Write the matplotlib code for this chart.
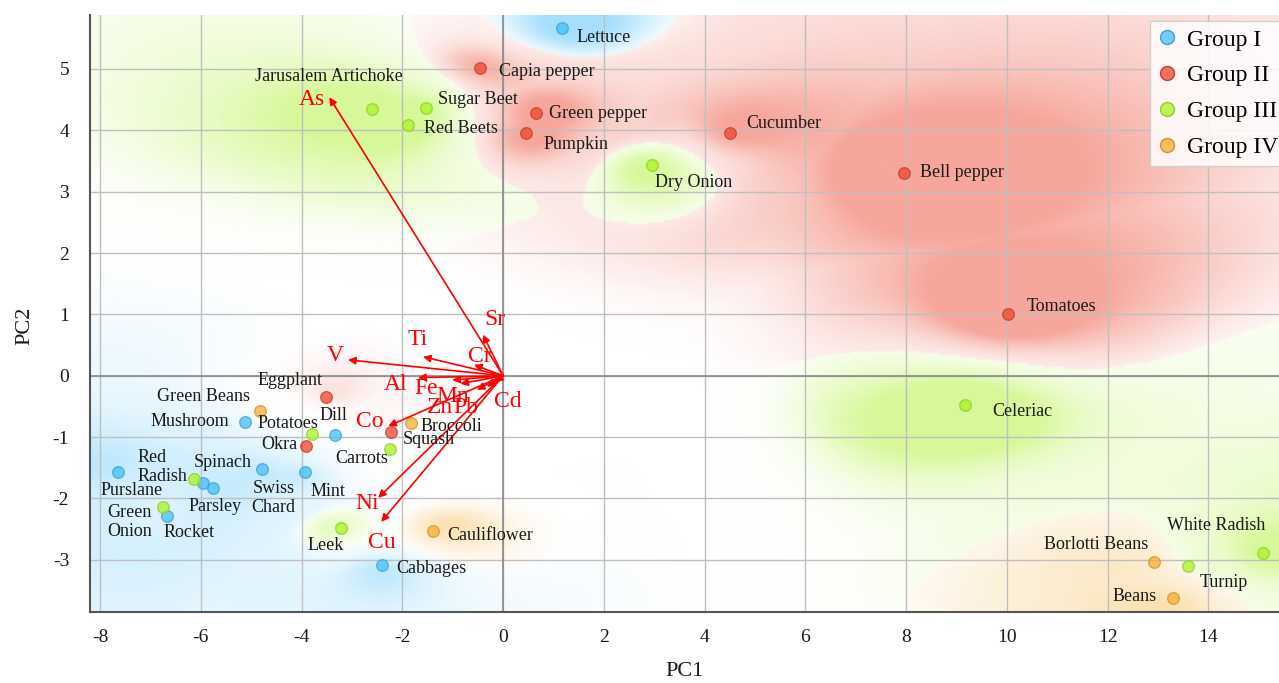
import numpy as np
import matplotlib.pyplot as plt
from matplotlib.lines import Line2D

plt.rcParams['font.family'] = ['Liberation Serif', 'DejaVu Serif']

# PCA scores of the vegetables (PC1, PC2) and their group
names = ["Lettuce", "Mushroom", "Dill", "Purslane", "Spinach", "Parsley",
         "Swiss\nChard", "Mint", "Rocket", "Cabbages",
         "Capia pepper", "Green pepper", "Pumpkin", "Cucumber", "Bell pepper",
         "Tomatoes", "Eggplant", "Okra", "Squash",
         "Jarusalem Artichoke", "Sugar Beet", "Red Beets", "Dry Onion", "Celeriac",
         "Potatoes", "Carrots", "Red\nRadish", "Green\nOnion", "Leek",
         "White Radish", "Turnip",
         "Green Beans", "Broccoli", "Cauliflower", "Borlotti Beans", "Beans"]
pc1 = [1.17, -5.12, -3.33, -7.64, -5.95, -5.75, -4.78, -3.93, -6.67, -2.40,
       -0.46, 0.65, 0.46, 4.50, 7.96, 10.02, -3.51, -3.91, -2.22,
       -2.60, -1.53, -1.88, 2.96, 9.17, -3.79, -2.24, -6.13, -6.75, -3.21,
       15.08, 13.59,
       -4.82, -1.83, -1.39, 12.92, 13.29]
pc2 = [5.66, -0.75, -0.96, -1.57, -1.75, -1.83, -1.52, -1.57, -2.28, -3.08,
       5.01, 4.29, 3.95, 3.96, 3.30, 1.00, -0.34, -1.14, -0.91,
       4.34, 4.36, 4.08, 3.43, -0.47, -0.95, -1.19, -1.68, -2.14, -2.48,
       -2.89, -3.10,
       -0.57, -0.77, -2.53, -3.03, -3.62]
group = [0] * 10 + [1] * 9 + [2] * 12 + [3] * 5
group_names = ["Group I", "Group II", "Group III", "Group IV"]

# loadings of the elements
elements = ["As", "Sr", "Ti", "V", "Cr", "Al", "Fe", "Mn", "Zn", "Pb", "Cd",
            "Co", "Ni", "Cu"]
load1 = [-3.45, -0.40, -1.59, -3.08, -0.58, -1.69, -1.01, -0.85, -0.52, -0.32,
         -0.16, -2.28, -2.48, -2.42]
load2 = [4.54, 0.67, 0.31, 0.26, 0.18, -0.03, -0.07, -0.13, -0.23, -0.18,
         -0.11, -0.82, -1.99, -2.38]

# label placement (offset in pixels from the point, horizontal alignment)
label_pos = {
    "Lettuce": (14, -9, 'left'), "Mushroom": (-16, 0, 'right'),
    "Dill": (-2, 19, 'center'), "Purslane": (13, -18, 'center'),
    "Spinach": (19, 21, 'center'), "Parsley": (2, -18, 'center'),
    "Swiss\nChard": (11, -29, 'center'), "Mint": (23, -19, 'center'),
    "Rocket": (22, -17, 'center'), "Cabbages": (14, -4, 'left'),
    "Capia pepper": (19, -3, 'left'), "Green pepper": (13, -1, 'left'),
    "Pumpkin": (17, -11, 'left'), "Cucumber": (16, 9, 'left'),
    "Bell pepper": (16, 1, 'left'), "Tomatoes": (19, 8, 'left'),
    "Eggplant": (-36, 16, 'center'), "Okra": (-9, 1, 'right'),
    "Squash": (11, -8, 'left'),
    "Jarusalem Artichoke": (-43, 33, 'center'), "Sugar Beet": (12, 9, 'left'),
    "Red Beets": (16, -3, 'left'), "Dry Onion": (3, -17, 'left'),
    "Celeriac": (27, -7, 'left'), "Potatoes": (-24, 11, 'center'),
    "Carrots": (-2, -10, 'right'), "Red\nRadish": (-57, 12, 'left'),
    "Green\nOnion": (-56, -15, 'left'), "Leek": (-16, -18, 'center'),
    "White Radish": (-47, 28, 'center'), "Turnip": (12, -17, 'left'),
    "Green Beans": (-10, 14, 'right'), "Broccoli": (10, -3, 'left'),
    "Cauliflower": (14, -4, 'left'), "Borlotti Beans": (-6, 17, 'right'),
    "Beans": (-16, 1, 'right'),
}
elem_pos = {
    "As": (-17, -2), "Sr": (12, 15), "Ti": (-5, 17), "V": (-13, 4),
    "Cr": (6, 8), "Al": (-22, -7), "Fe": (-26, -8), "Mn": (-8, -13),
    "Zn": (-37, -18), "Pb": (-21, -21), "Cd": (13, -19), "Co": (-19, 5),
    "Ni": (-11, -6), "Cu": (1, -21),
}

colors = np.array([[70, 190, 250], [237, 70, 47], [170, 242, 43],
                   [245, 174, 50]]) / 255.0

xmin, xmax = -8.2, 15.4
ymin, ymax = -3.85, 5.88

fig = plt.figure(figsize=(12.79, 6.83), dpi=100)
ax = fig.add_axes([90 / 1279, 1 - 612 / 683, 1189 / 1279, 597 / 683])

# class regions: distance weighted neighbour vote on normalised coordinates,
# coloured by the winning group, faded where the vote is close
x = np.array(pc1)
y = np.array(pc2)
g = np.array(group)
gx = np.linspace(xmin, xmax, 600)
gy = np.linspace(ymin, ymax, 300)
GX, GY = np.meshgrid(gx, gy)
u = (GX - xmin) / (xmax - xmin)
v = (GY - ymin) / (ymax - ymin)
pu = (x - xmin) / (xmax - xmin)
pv = (y - ymin) / (ymax - ymin)
d2 = (u[..., None] - pu) ** 2 + (v[..., None] - pv) ** 2
lo = d2.min(axis=-1, keepdims=True)
s2 = lo + 0.04 ** 2
w = np.exp(-(d2 - lo) / (2 * s2))
probs = np.stack([w[..., g == k].sum(-1) for k in range(4)], -1)
probs /= probs.sum(-1, keepdims=True)
best = probs.argmax(-1)
pmax = probs.max(-1)
strength = np.clip((pmax - 0.3) / 0.6, 0, 1)
rgba = np.zeros(GX.shape + (4,))
rgba[..., :3] = colors[best]
rgba[..., 3] = 0.48 * strength ** 1.3
ax.imshow(rgba, extent=(xmin, xmax, ymin, ymax), origin='lower',
          aspect='auto', interpolation='bilinear', zorder=0)

# grid and zero lines
ax.set_xticks(np.arange(-8, 15, 2))
ax.set_yticks(np.arange(-3, 6, 1))
ax.grid(True, color='#bfbfbf', lw=1.0)
ax.axhline(0, color='#8a8a8a', lw=1.2, zorder=1.6)
ax.axvline(0, color='#8a8a8a', lw=1.2, zorder=1.6)

# element loadings
for name, lx, ly in zip(elements, load1, load2):
    ax.annotate('', xy=(lx, ly), xytext=(0, 0),
                arrowprops=dict(arrowstyle='-|>', color='red', lw=1.2,
                                mutation_scale=11, shrinkA=0, shrinkB=0),
                zorder=4)
    ox, oy = elem_pos[name]
    ax.annotate(name, (lx, ly), xytext=(ox, oy), textcoords='offset pixels',
                ha='center', va='center', color='red', fontsize=17, zorder=5)

# scores
for k in range(4):
    m = g == k
    ax.scatter(x[m], y[m], s=70, color=colors[k], alpha=0.75,
               edgecolors=colors[k] * 0.85, linewidths=1.0, zorder=3)

for name, px, py in zip(names, pc1, pc2):
    ox, oy, ha = label_pos[name]
    ax.annotate(name, (px, py), xytext=(ox, oy), textcoords='offset pixels',
                ha=ha, va='center', fontsize=13, color='#1a1a1a',
                multialignment='center' if ha == 'center' else 'left',
                zorder=5)

ax.set_xlim(xmin, xmax)
ax.set_ylim(ymin, ymax)
for side in ['top', 'right']:
    ax.spines[side].set_visible(False)
for side in ['left', 'bottom']:
    ax.spines[side].set_color('#555555')
    ax.spines[side].set_linewidth(1.5)
ax.tick_params(length=0, labelsize=14, colors='#1a1a1a')
ax.tick_params(axis='y', pad=15)
ax.tick_params(axis='x', pad=12)
ax.set_xticklabels([str(t) for t in range(-8, 15, 2)])
ax.set_yticklabels([str(t) for t in range(-3, 6)])

ax.set_xlabel('PC1', fontsize=16, color='#1a1a1a', va='center')
ax.set_ylabel('PC2', fontsize=16, color='#1a1a1a', va='center')
ax.xaxis.set_label_coords(0.5, -0.1)
ax.yaxis.set_label_coords(-0.055, 0.48)

handles = [Line2D([], [], marker='o', ls='', markersize=10,
                  markerfacecolor=np.append(colors[k], 0.75),
                  markeredgecolor=colors[k] * 0.85) for k in range(4)]
leg = ax.legend(handles, group_names, loc='upper left',
                bbox_to_anchor=(0.8915, 0.99), borderaxespad=0, fontsize=17,
                frameon=True, fancybox=False, framealpha=0.85,
                edgecolor='#cccccc', handlelength=0.76, handletextpad=0.47,
                labelspacing=0.6, borderpad=0.35)
leg.set_zorder(6)

fig.savefig('out.png', dpi=100)
